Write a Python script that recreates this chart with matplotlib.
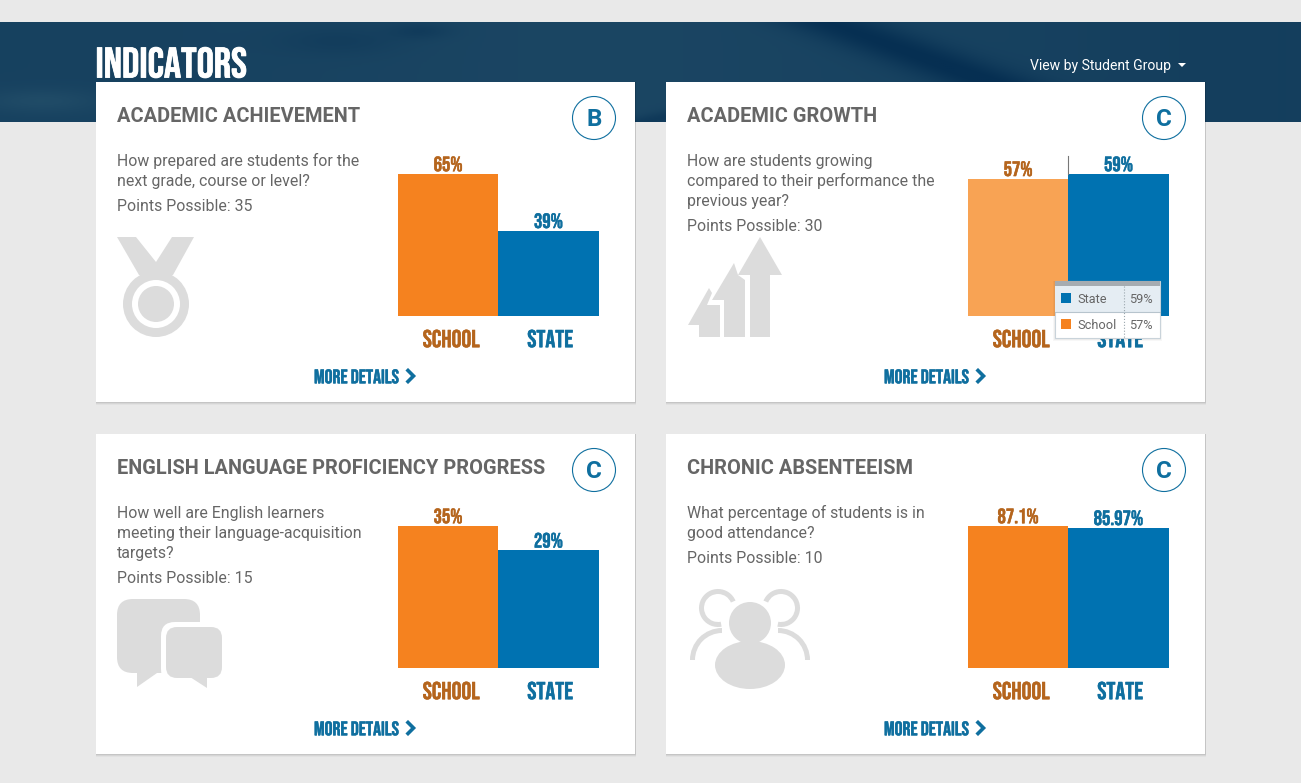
import matplotlib
matplotlib.use('Agg')
import matplotlib.pyplot as plt
import numpy as np
from matplotlib import font_manager as fm
from matplotlib import patheffects as pe
from matplotlib.colors import LinearSegmentedColormap
from matplotlib.patches import Rectangle, Circle, Polygon, FancyBboxPatch, Wedge, Ellipse

titles = ['ACADEMIC ACHIEVEMENT', 'ACADEMIC GROWTH',
          'ENGLISH LANGUAGE PROFICIENCY PROGRESS', 'CHRONIC ABSENTEEISM']
grades = ['B', 'C', 'C', 'C']
questions = [['How prepared are students for the', 'next grade, course or level?'],
             ['How are students growing', 'compared to their performance the', 'previous year?'],
             ['How well are English learners', 'meeting their language-acquisition', 'targets?'],
             ['What percentage of students is in', 'good attendance?']]
points = [35, 30, 15, 10]
categories = ['SCHOOL', 'STATE']
school = [65, 57, 35, 87.1]
state = [39, 59, 29, 85.97]
school_labels = ['65%', '57%', '35%', '87.1%']
state_labels = ['39%', '59%', '29%', '85.97%']

W, H = 1301, 783
BODY = 'Roboto'
names = {f.name for f in fm.fontManager.ttflist}
NARROW = 'Roboto'
for n in ['Bebas Neue', 'Oswald', 'Sofia Sans Extra Condensed']:
    if n in names:
        NARROW = n
        break

ORANGE = '#f5821f'
BLUE = '#0072b1'
DORANGE = '#b5651d'
DBLUE = '#0f6f9f'
GREY = '#666666'
ICON = '#dcdcdc'


def heavy(color, w=0.35):
    # the narrow labels look a little heavier in the original
    return [pe.withStroke(linewidth=w, foreground=color)]


fig = plt.figure(figsize=(W / 100, H / 100), dpi=100, facecolor='#e9e9e9')
ax = fig.add_axes([0, 0, 1, 1], zorder=0)
ax.axis('off')


def streak(xx, yy, x1, y1, x2, y2, wid):
    # soft diagonal band for the blurred header photo
    dx, dy = x2 - x1, y2 - y1
    d = ((xx - x1) * dy - (yy - y1) * dx) / np.hypot(dx, dy)
    return np.exp(-(d / wid) ** 2)


# header band
xx, yy = np.meshgrid(np.arange(0, W, 2.0), np.arange(22, 122, 2.0))
shade = 0.47 + 0.1 * np.exp(-((xx - 600) / 300) ** 2) - 0.08 * np.exp(-((xx - 1280) / 200) ** 2)
shade = shade - 0.5 * streak(xx, yy, 830, 22, 1000, 85, 18)
shade = shade - 0.15 * np.exp(-((xx - 340) / 60) ** 2 - ((yy - 40) / 14) ** 2)
shade = shade - 0.2 * np.exp(-((xx - 420) / 30) ** 2 - ((yy - 30) / 8) ** 2)
shade = shade + 0.25 * np.exp(-((xx - 40) / 60) ** 2 - ((yy - 100) / 12) ** 2)
shade = shade - 0.3 * streak(xx, yy, 640, 122, 760, 95, 7) * (xx < 670)
ax.imshow(shade, extent=(0, W, 122, 22), aspect='auto', zorder=1, interpolation='bilinear',
          cmap=LinearSegmentedColormap.from_list('h', ['#062f52', '#2a566f']), vmin=0, vmax=1)
ax.set_xlim(0, W)
ax.set_ylim(H, 0)
ax.text(95.5, 62, 'INDICATORS', color='white', fontsize=30.8, family=NARROW, va='center', zorder=3,
        path_effects=heavy('white', 0.6))
ax.text(1030, 66, 'View by Student Group', color='white', fontsize=10.05, family=BODY, va='center', zorder=3)
ax.add_patch(Polygon([(1178, 63), (1186, 63), (1182, 67)], fc='white', ec='none', zorder=3))


def medal(x, y):
    ax.add_patch(Polygon([(x, y), (x + 19, y), (x + 39, y + 25), (x + 55, y), (x + 77, y),
                          (x + 56, y + 38), (x + 22, y + 38)], fc=ICON, ec='none', zorder=3))
    ax.add_patch(Circle((x + 39, y + 67), 33, fc=ICON, ec='none', zorder=3))
    ax.add_patch(Circle((x + 39, y + 67), 24, fc='white', ec='none', zorder=3))
    ax.add_patch(Circle((x + 39, y + 67), 18, fc=ICON, ec='none', zorder=3))


def arrows(x, y):
    big = [(51, 38), (73, 0), (95, 38), (83, 38), (83, 100), (63, 100), (63, 38)]
    mid = [(25, 63), (47, 26), (51, 38), (58, 43), (58, 100), (37, 100), (37, 63)]
    low = [(1, 88), (22, 51), (25, 56), (20, 68), (33, 68), (33, 100), (12, 100), (12, 88)]
    for pts in [big, mid, low]:
        ax.add_patch(Polygon([(x + a, y + b) for a, b in pts], fc=ICON, ec='none', zorder=3))


def bubbles(x, y):
    ax.add_patch(FancyBboxPatch((x + 10, y + 10), 63, 54, boxstyle='round,pad=10,rounding_size=16', fc=ICON, ec='none', zorder=3))
    ax.add_patch(Polygon([(x + 20, y + 72), (x + 40, y + 74), (x + 20, y + 88)], fc=ICON, ec='none', zorder=3))
    ax.add_patch(FancyBboxPatch((x + 44, y + 23), 66, 61, boxstyle='round,pad=0,rounding_size=14', fc='white', ec='none', zorder=3.1))
    ax.add_patch(FancyBboxPatch((x + 49, y + 28), 56, 51, boxstyle='round,pad=0,rounding_size=11', fc=ICON, ec='none', zorder=3.2))
    ax.add_patch(Polygon([(x + 73, y + 78), (x + 90, y + 78), (x + 90, y + 89)], fc=ICON, ec='none', zorder=3.2))


def people(x, y):
    # side figures are open arcs, head and shoulders
    ax.add_patch(Wedge((x + 31, y + 19), 19, 79, 337, width=5, fc=ICON, ec='none', zorder=3))
    ax.add_patch(Wedge((x + 94, y + 19), 19, -157, 101, width=5, fc=ICON, ec='none', zorder=3))
    ax.add_patch(Wedge((x + 35, y + 71), 32, 180, 270, width=5, fc=ICON, ec='none', zorder=3))
    ax.add_patch(Wedge((x + 91, y + 71), 32, 270, 360, width=5, fc=ICON, ec='none', zorder=3))
    ax.add_patch(Circle((x + 63, y + 34), 25, fc='white', ec='none', zorder=3.1))
    ax.add_patch(Ellipse((x + 63, y + 75), 78, 56, fc='white', ec='none', zorder=3.1))
    ax.add_patch(Circle((x + 63, y + 34), 21, fc=ICON, ec='none', zorder=3.2))
    ax.add_patch(Ellipse((x + 63, y + 76), 70, 48, fc=ICON, ec='none', zorder=3.2))


icons = [(medal, 117, 237), (arrows, 687, 237), (bubbles, 117, 599), (people, 687, 589)]


def px_axes(x0, y0, x1, y1, z):
    return fig.add_axes([x0 / W, 1 - y1 / H, (x1 - x0) / W, (y1 - y0) / H], zorder=z)


lefts = [96, 666, 96, 666]
tops = [82, 82, 434, 434]
for i in range(4):
    x0, y0 = lefts[i], tops[i]
    for k, a in enumerate([0.03, 0.05, 0.07]):
        ax.add_patch(Rectangle((x0 - 0.5, y0), 540, 323 - k, fc='black', alpha=a, ec='none', zorder=2))
    ax.add_patch(Rectangle((x0, y0), 539, 320, fc='white', ec='none', zorder=2.5))
    ax.text(x0 + 20.6, y0 + 35, titles[i], color=GREY, fontsize=14.4, family=BODY, weight='bold', va='center', zorder=4)
    # grade badge
    cx = x0 + 498
    ax.add_patch(Circle((cx, y0 + 36), 21.5, fc='white', ec=DBLUE, lw=0.8, zorder=4))
    ax.text(cx, y0 + 37, grades[i], color=DBLUE, fontsize=17.5, family=BODY, weight='bold', ha='center', va='center', zorder=5)
    # question text
    yy_txt = y0 + 79.4
    for line in questions[i]:
        ax.text(x0 + 20.6, yy_txt, line, color=GREY, fontsize=11.45, family=BODY, va='center', zorder=4)
        yy_txt += 20
    ax.text(x0 + 20.6, yy_txt + 5.1, 'Points Possible: %d' % points[i], color=GREY, fontsize=11.45, family=BODY, va='center', zorder=4)
    # icon
    fn, ix, iy = icons[i]
    fn(ix, iy)
    # more details link
    ax.text(x0 + 218, y0 + 294.3, 'MORE DETAILS', color=DBLUE, fontsize=14.2, family=NARROW, va='center', zorder=4,
            path_effects=heavy(DBLUE))
    ax.plot([x0 + 312, x0 + 317.5, x0 + 312], [y0 + 288.5, y0 + 294, y0 + 299.5], color=DBLUE, lw=2.6, zorder=4, solid_joinstyle='miter')

    # bar chart
    bx = px_axes(x0 + 302, y0 + 92, x0 + 502.8, y0 + 234, 1)
    bx.patch.set_alpha(0)
    vals = [school[i], state[i]]
    c0 = '#f8a354' if i == 1 else ORANGE
    bx.bar([0, 1], vals, width=1, color=[c0, BLUE])
    bx.set_xlim(-0.5, 1.5)
    bx.set_ylim(0, max(vals))
    for s in bx.spines.values():
        s.set_visible(False)
    bx.set_yticks([])
    bx.set_xticks([0.03, 1.015])
    bx.set_xticklabels(categories, fontsize=17.7, family=NARROW)
    bx.tick_params(axis='x', length=0, pad=9.5)
    bx.get_xticklabels()[0].set_color(DORANGE)
    bx.get_xticklabels()[1].set_color(DBLUE)
    bx.get_xticklabels()[0].set_path_effects(heavy(DORANGE))
    bx.get_xticklabels()[1].set_path_effects(heavy(DBLUE))
    bx.annotate(school_labels[i], (0, school[i]), xytext=(0, 2), textcoords='offset points', color=DORANGE,
                fontsize=15, family=NARROW, ha='center', va='bottom', annotation_clip=False,
                path_effects=heavy(DORANGE))
    bx.annotate(state_labels[i], (1, state[i]), xytext=(0, 2), textcoords='offset points', color=DBLUE,
                fontsize=15, family=NARROW, ha='center', va='bottom', annotation_clip=False,
                path_effects=heavy(DBLUE))

# hover line and tooltip on growth card
over = fig.add_axes([0, 0, 1, 1], zorder=2)
over.set_xlim(0, W)
over.set_ylim(H, 0)
over.axis('off')
over.patch.set_alpha(0)
over.plot([1068, 1068], [156, 174], color='#777777', lw=0.8)
for k, a in enumerate([0.03, 0.04, 0.05]):
    over.add_patch(Rectangle((1053 + k, 281), 109 - 2 * k, 60 - k, fc='black', alpha=a, ec='none'))
over.add_patch(Rectangle((1055, 281), 105, 57, fc='white', ec='#c9d3da', lw=0.8))
over.add_patch(Rectangle((1055, 286), 105, 26, fc='#e5edf3', ec='none'))
over.add_patch(Rectangle((1055, 281), 105, 5, fc='#a6acb1', ec='none'))
over.plot([1055, 1160], [312, 312], color='#b7c4cd', lw=0.8)
over.plot([1123.5, 1123.5], [286, 338], color='#9aa6ad', lw=0.8, ls=':')
over.add_patch(Rectangle((1061, 293), 10, 10, fc=BLUE, ec='none'))
over.add_patch(Rectangle((1061, 319), 10, 10, fc=ORANGE, ec='none'))
over.text(1077, 299.8, 'State', color=GREY, fontsize=9.2, family=BODY, va='center')
over.text(1077, 325.8, 'School', color=GREY, fontsize=9.2, family=BODY, va='center')
over.text(1129, 299.8, state_labels[1], color=GREY, fontsize=9.2, family=BODY, va='center')
over.text(1129, 325.8, school_labels[1], color=GREY, fontsize=9.2, family=BODY, va='center')

fig.savefig('out.png', dpi=100, facecolor=fig.get_facecolor())
